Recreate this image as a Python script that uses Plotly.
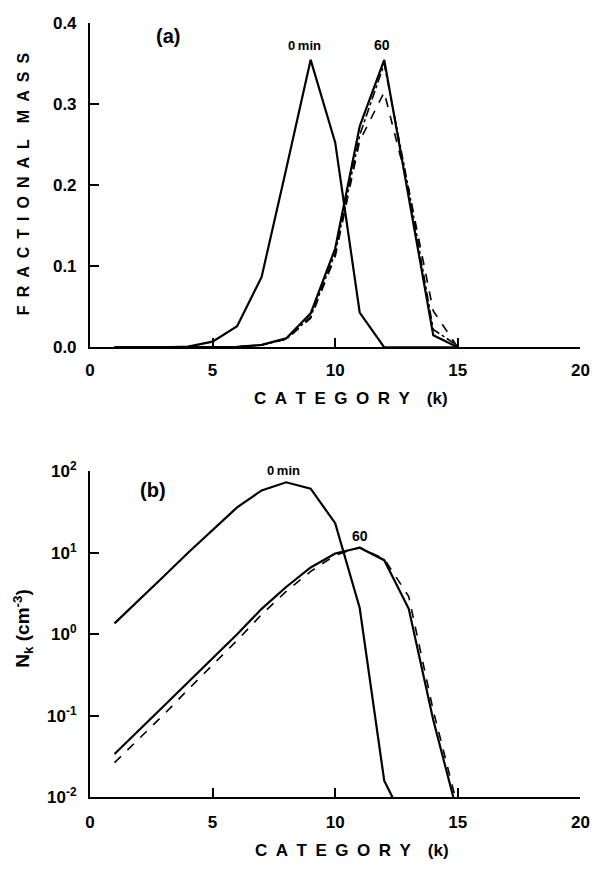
import plotly.graph_objects as go

# ---------------- data ----------------
k_a = list(range(1, 16))
mass_0min = [0, 0, 0, 0.001, 0.007, 0.026, 0.087, 0.22, 0.355, 0.253, 0.043, 0.0, 0, 0, 0]
mass_60_solid = [0, 0, 0, 0, 0, 0.0005, 0.003, 0.011, 0.042, 0.122, 0.273, 0.355, 0.185, 0.015, 0]
mass_60_dashdot = [0, 0, 0, 0, 0, 0.0005, 0.003, 0.010, 0.038, 0.116, 0.262, 0.350, 0.195, 0.022, 0.002]
mass_60_dash = [0, 0, 0, 0, 0, 0.0005, 0.003, 0.010, 0.036, 0.112, 0.255, 0.315, 0.195, 0.045, 0]

k_b0 = list(range(1, 14))
num_0min = [1.36, 2.6, 5.1, 10.0, 19.0, 36, 58, 73, 61, 23, 2.1, 0.016, 0.004]
k_b = list(range(1, 16))
num_60_solid = [0.034, 0.066, 0.131, 0.258, 0.51, 1.0, 2.05, 3.8, 6.6, 9.8, 11.5, 8.1, 2.05, 0.089, 0.0062]
num_60_dash = [0.0267, 0.052, 0.103, 0.21, 0.42, 0.84, 1.75, 3.35, 5.9, 9.3, 11.6, 8.4, 2.9, 0.116, 0.0076]

x_ticks = [0, 5, 10, 15, 20]
x_ticktext = ["0", "5", "10", "15", "20"]
ya_ticks = [0.0, 0.1, 0.2, 0.3, 0.4]
ya_ticktext = ["0.0", "0.1", "0.2", "0.3", "0.4"]
yb_ticks = [0.01, 0.1, 1, 10, 100]
yb_ticktext = ["10<sup>-2</sup>", "10<sup>-1</sup>", "10<sup>0</sup>", "10<sup>1</sup>", "10<sup>2</sup>"]

# ---------------- figure ----------------
W, H = 606, 874
FONT = "Liberation Sans"
BLACK = "black"

def px(x):
    return x / W

def py(y):
    return 1 - y / H

def bold(labels):
    return ["<b>" + t + "</b>" for t in labels]

fig = go.Figure()

def line(x, y, dash, xa, ya, width=2.2):
    fig.add_trace(go.Scatter(x=x, y=y, mode="lines", xaxis=xa, yaxis=ya,
                             line=dict(color=BLACK, width=width, dash=dash),
                             showlegend=False, hoverinfo="skip"))

line(k_a, mass_0min, "solid", "x", "y")
line(k_a, mass_60_solid, "solid", "x", "y")
line(k_a, mass_60_dashdot, "dashdot", "x", "y", 1.6)
line(k_a, mass_60_dash, "dash", "x", "y", 1.6)

line(k_b0, num_0min, "solid", "x2", "y2")
line(k_b, num_60_solid, "solid", "x2", "y2")
line(k_b, num_60_dash, "dash", "x2", "y2", 1.6)

tickfont = dict(family=FONT, size=17, color=BLACK)
axis_common = dict(showline=True, linecolor=BLACK, linewidth=2, mirror=False,
                   ticks="inside", ticklen=9, tickwidth=2, tickcolor=BLACK,
                   showgrid=False, zeroline=False, tickfont=tickfont)

xdom = [px(87), px(589)]
fig.update_layout(
    width=W, height=H,
    margin=dict(l=0, r=0, t=0, b=0),
    paper_bgcolor="white", plot_bgcolor="white",
    xaxis=dict(domain=xdom, range=[0, 20], tickvals=x_ticks, ticktext=bold(x_ticktext),
               anchor="y", ticklabelstandoff=6, **axis_common),
    yaxis=dict(domain=[py(344), py(11.7)], range=[0, 0.4], tickvals=ya_ticks,
               ticktext=bold(ya_ticktext), anchor="x", ticklabelstandoff=8, **axis_common),
    xaxis2=dict(domain=xdom, range=[0, 20], tickvals=x_ticks, ticktext=bold(x_ticktext),
                anchor="y2", ticklabelstandoff=8, **axis_common),
    yaxis2=dict(domain=[py(805.7), py(471)], type="log", range=[-2, 2],
                tickvals=yb_ticks, ticktext=bold(yb_ticktext), anchor="x2",
                ticklabelstandoff=8, **axis_common),
)

def ann(text, x, y, size, angle=0):
    fig.add_annotation(text="<b>" + text + "</b>", x=px(x), y=py(y),
                       xref="paper", yref="paper",
                       xanchor="center", yanchor="middle", showarrow=False,
                       textangle=angle,
                       font=dict(family=FONT, size=size, color=BLACK))

sp = "\u2002"
cat_title = sp.join(list("CATEGORY")) + sp + sp + "(k)"
ann(cat_title, 354, 396, 17)
ann(cat_title, 355, 860, 17)
ann(sp.join(list("FRACTIONAL")) + sp + sp + sp.join(list("MASS")), 19, 176, 16, -90)
ann("N<sub>k</sub> (cm<sup>-3</sup>)", 18, 633, 19, -90)

ann("(a)", 167, 25, 20)
ann("(b)", 151, 490, 20)
ann("0\u2009min", 307, 34, 13)
ann("60", 386, 34, 14)
ann("0\u2009min", 285, 470, 13)
ann("60", 363, 538, 14)

fig.write_html("out.html")
